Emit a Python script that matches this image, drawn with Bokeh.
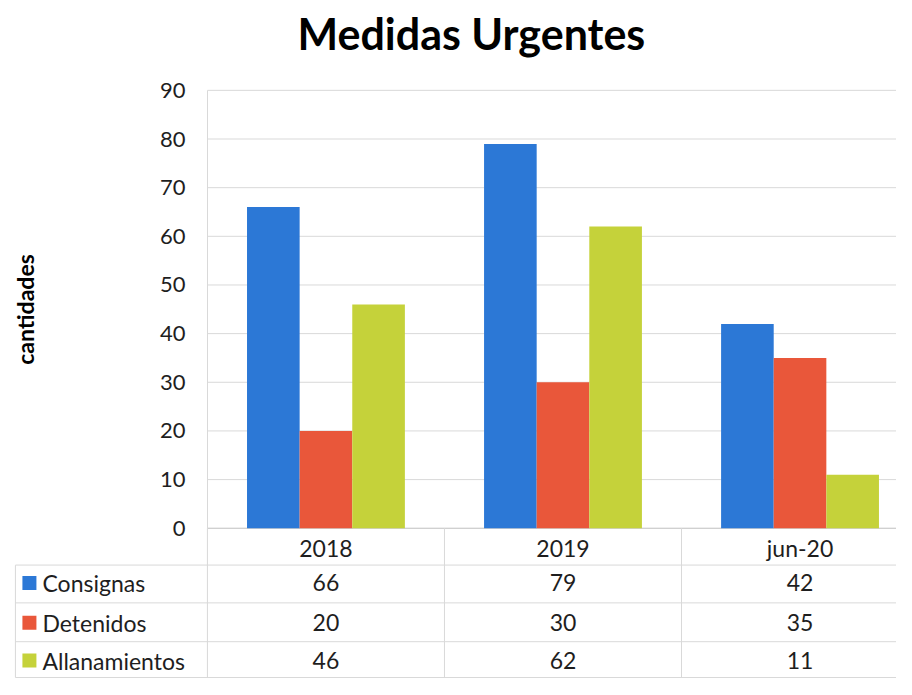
from bokeh.plotting import figure
from bokeh.models import Range1d, FixedTicker, ColumnDataSource
from bokeh.core.properties import value
from bokeh.embed import file_html
from bokeh.resources import INLINE
import numpy as np

# ---------------- data ----------------
categories = ["2018", "2019", "jun-20"]
series_names = ["Consignas", "Detenidos", "Allanamientos"]
consignas = [66, 79, 42]
detenidos = [20, 30, 35]
allanamientos = [46, 62, 11]
y_ticks = [0, 10, 20, 30, 40, 50, 60, 70, 80, 90]
title_text = "Medidas Urgentes"
y_label = "cantidades"

# ---------------- style ----------------
FONT = "Lato"
colors = ["#2C78D6", "#E9573A", "#C5D23A"]
GRID = "#D9D9D9"
TEXT = "#1E1E1E"

series_values = [consignas, detenidos, allanamientos]
n = len(categories)
centers = np.arange(n) + 0.5
offsets = [-0.222, 0.0, 0.222]
bar_w = 0.222

p = figure(width=896, height=679, output_backend="svg", toolbar_location=None,
           x_range=Range1d(-0.873, 2.907), y_range=Range1d(-31.09, 95.52),
           min_border_left=0, min_border_right=0, min_border_bottom=0,
           min_border_top=60)
p.outline_line_color = None
p.xaxis.visible = False
p.xgrid.visible = False
p.ygrid.visible = False

# title
p.title.text = title_text
p.title.text_font = FONT
p.title.text_font_size = "43px"
p.title.text_font_style = "bold"
p.title.text_color = "#000000"
p.title.align = "left"
p.title.offset = 297

# y axis drawn at x = 0 inside the frame
yax = p.yaxis[0]
yax.fixed_location = 0
yax.ticker = FixedTicker(ticks=y_ticks)
yax.bounds = (0, max(y_ticks))
yax.axis_line_color = GRID
yax.major_tick_line_color = None
yax.minor_tick_line_color = None
yax.major_tick_out = 0
yax.major_label_standoff = 22
yax.major_label_text_font = FONT
yax.major_label_text_font_size = "22px"
yax.major_label_text_color = TEXT
yax.axis_label = y_label
yax.axis_label_text_font = FONT
yax.axis_label_text_font_size = "23px"
yax.axis_label_text_font_style = "bold"
yax.axis_label_text_color = "#000000"
yax.axis_label_standoff = 118

# gridlines over the plot area
gy = [t for t in y_ticks]
p.segment(x0=[0] * len(gy), x1=[n] * len(gy), y0=gy, y1=gy,
          line_color=[("#BFBFBF" if t == 0 else GRID) for t in gy], line_width=1)

# bars
for name, vals, off, col in zip(series_names, series_values, offsets, colors):
    src = ColumnDataSource(dict(x=centers + off, top=vals))
    p.vbar(x="x", top="top", width=bar_w, bottom=0, source=src,
           fill_color=col, line_color=None)

# ---------------- data table ----------------
header_y = -4.09
row_y = [-11.25, -19.43, -27.2]
hlines = [-7.57, -15.34, -23.32, -30.68]
left_x = -0.81

p.segment(x0=[left_x] * len(hlines), x1=[n] * len(hlines), y0=hlines, y1=hlines,
          line_color=GRID, line_width=1)
p.segment(x0=[left_x], x1=[left_x], y0=[hlines[0]], y1=[hlines[-1]],
          line_color=GRID, line_width=1)
p.segment(x0=list(range(0, n)), x1=list(range(0, n)),
          y0=[0] * n, y1=[hlines[-1]] * n,
          line_color=GRID, line_width=1)

p.text(x=centers, y=[header_y] * n, text=categories,
       text_font=value(FONT), text_font_size="23px", text_color=TEXT,
       text_align="center", text_baseline="middle")

for name, vals, yy, col in zip(series_names, series_values, row_y, colors):
    p.text(x=centers, y=[yy] * n, text=[str(v) for v in vals],
           text_font=value(FONT), text_font_size="23px", text_color=TEXT,
           text_align="center", text_baseline="middle")
    p.scatter(x=[-0.751], y=[yy], marker="square", size=14,
              fill_color=col, line_color=None)
    p.text(x=[-0.696], y=[yy], text=[name],
           text_font=value(FONT), text_font_size="23px", text_color=TEXT,
           text_align="left", text_baseline="middle")

open("out.html", "w").write(file_html(p, INLINE))
